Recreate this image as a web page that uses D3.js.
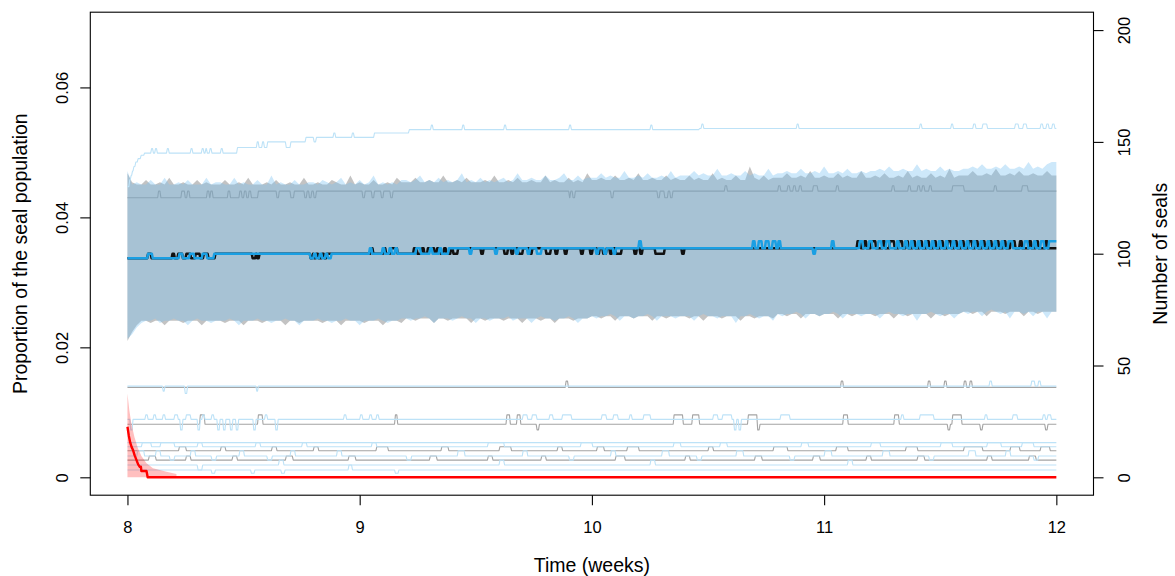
<!DOCTYPE html>
<html>
<head>
<meta charset="utf-8">
<script src="https://cdn.jsdelivr.net/npm/d3@7"></script>
<style>
  body { margin: 0; background: #fff; }
  svg text { font-family: "Liberation Sans", Arial, Helvetica, sans-serif; fill: #000; }
</style>
</head>
<body>
<div id="chart"></div>
<script>
// ---- axes ----
const timeTicks = [8, 9, 10, 11, 12];
const propTicks = [0, 0.02, 0.04, 0.06];
const sealTicks = [0, 50, 100, 150, 200];
const totalSeals = 2906; // 200 seals <-> 0.0688 of the population

// ---- 95% bands (seals), sampled every 0.02 weeks from week 8 to 12 ----
const greyHi = [
  136,132,131,131,133,131,131,132,131,134,131,131,132,131,131,133,131,132,131,131,
  131,133,131,131,132,131,134,131,131,131,132,131,133,131,131,132,131,131,134,131,
  131,132,131,131,133,132,131,131,135,131,132,131,131,133,131,131,132,131,134,132,
  132,132,134,132,132,133,132,132,135,132,132,133,132,134,132,132,132,133,132,135,
  132,132,133,132,134,132,132,133,132,132,135,132,133,132,132,134,132,133,132,136,
  133,133,134,133,133,135,133,133,134,133,136,133,133,134,133,133,135,133,134,133,
  133,135,133,134,133,133,136,133,134,133,133,135,133,133,139,134,133,135,133,134,
  134,134,136,134,134,135,134,137,134,134,135,134,134,136,134,135,134,134,137,134,
  134,135,134,136,134,134,135,134,137,134,135,134,134,136,134,135,134,138,134,135,
  135,135,137,135,135,136,135,138,135,135,136,135,137,135,135,136,135,135,137,135,
  135];
const blueHi = [
  137,131,132,131,131,133,131,131,134,131,131,132,131,133,131,131,131,134,131,132,
  132,131,131,134,131,132,131,131,133,131,131,135,131,132,131,131,133,131,131,132,
  132,131,133,132,131,132,134,131,132,131,133,131,132,135,131,132,131,132,131,133,
  133,132,133,135,132,133,132,134,132,133,132,133,136,132,133,132,134,132,133,132,
  133,134,132,133,136,133,133,134,133,133,135,133,133,134,136,133,133,135,133,134,
  134,134,136,134,135,134,134,137,134,134,135,134,136,134,134,135,134,137,134,135,
  135,135,137,135,136,135,135,138,135,135,136,135,135,137,135,136,135,135,138,135,
  136,136,137,136,136,138,136,136,137,136,139,136,136,137,136,138,136,136,137,136,
  137,137,138,137,139,137,137,138,137,137,140,137,138,137,137,139,137,138,137,137,
  138,138,139,138,140,138,138,139,138,140,138,138,139,138,141,138,139,138,140,141,
  141];
const greyLo = [
  61,65,68,70,70,69,70,70,68,70,70,70,69,70,70,70,68,70,70,70,
  70,69,70,70,70,68,70,70,70,69,70,70,70,70,68,70,70,69,70,70,
  70,70,69,70,70,70,68,70,70,70,70,69,70,70,70,68,70,70,70,69,
  71,71,70,71,71,71,69,71,71,70,71,71,71,71,69,71,71,70,71,71,
  71,70,71,71,71,69,71,71,71,70,71,71,69,71,71,71,70,71,71,71,
  72,72,71,72,72,70,72,72,72,71,72,72,72,70,72,72,71,72,72,72,
  72,71,72,72,70,72,72,72,71,72,72,72,70,72,72,71,72,72,72,71,
  73,73,72,73,73,71,73,73,73,72,73,73,73,71,73,73,72,73,73,73,
  73,72,73,73,73,71,73,73,72,73,73,73,73,71,73,73,72,73,73,73,
  74,74,73,74,74,72,74,74,74,73,74,74,74,72,74,74,73,74,74,74,
  74];
const blueLo = [
  62,64,67,69,70,70,71,69,70,70,71,70,70,68,70,71,70,70,69,70,
  70,70,71,70,68,70,70,70,71,70,70,69,70,70,71,70,70,68,70,70,
  70,71,70,70,69,70,70,71,70,70,68,70,70,70,71,70,69,70,70,71,
  71,70,71,71,72,71,69,71,71,71,70,71,72,71,71,69,71,71,70,71,
  71,71,72,70,71,71,71,69,71,72,71,71,70,71,71,72,71,69,71,71,
  72,71,72,72,73,72,70,72,72,71,72,72,73,72,70,72,72,72,71,72,
  72,72,70,72,73,72,72,71,72,72,72,69,72,72,73,72,71,72,72,70,
  73,72,73,73,74,73,71,73,73,72,73,73,74,73,71,73,73,73,72,73,
  73,73,71,73,74,73,73,72,73,73,70,73,73,74,73,72,73,73,71,73,
  74,73,74,74,72,74,75,74,73,74,71,74,74,73,74,72,74,74,71,74,
  74];

// ---- medians (seals), [week, value] steps ----
const blackMedian = [[8,98],[8.085,100],[8.10,98],[8.19,100],[8.20,98],[8.215,100],[8.235,98],[8.25,100],[8.27,98],[8.29,100],[8.31,98],[8.325,100],[8.345,98],[8.375,100],
  [8.535,98],[8.55,100],[8.555,98],[8.565,100],
  [8.785,98],[8.795,100],[8.80,98],[8.81,100],[8.82,98],[8.835,100],[8.845,98],[8.855,100],
  [9.045,102.4],[9.055,100],[9.10,102.4],[9.11,100],[9.13,102.4],[9.16,100],[9.23,102.4],[9.245,100],[9.265,102.4],[9.275,100],[9.29,102.4],[9.32,100],[9.33,102.4],[9.345,100],[9.36,102.4],[9.37,100],[9.39,102.4],[9.40,100],[9.42,102.4],
  [9.52,100],[9.53,102.4],[9.62,100],[9.635,102.4],[9.65,100],[9.66,102.4],[9.68,100],[9.70,102.4],[9.73,100],[9.74,102.4],[9.80,100],[9.82,102.4],[9.84,100],[9.85,102.4],[9.88,100],[9.89,102.4],[9.95,100],[9.96,102.4],
  [9.99,100],[10.0,102.4],[10.02,100],[10.03,102.4],[10.045,100],[10.06,102.4],[10.075,100],[10.085,102.4],[10.10,100],[10.125,102.4],[10.18,100],[10.19,102.4],[10.205,100],[10.215,102.4],[10.27,100],[10.31,102.4],[10.385,100],[10.395,102.4],
  [11.14,105.6],[11.155,102.4],[11.17,105.6],[11.18,102.4],[11.20,105.6],[11.22,102.4],[11.25,105.6],[11.26,102.4],[11.28,105.6],[11.30,102.4],[11.32,105.6],[11.335,102.4],[11.35,105.6],[11.36,102.4],[11.38,105.6],[11.39,102.4],[11.41,105.6],[11.42,102.4],[11.44,105.6],[11.45,102.4],[11.47,105.6],[11.48,102.4],[11.50,105.6],[11.51,102.4],[11.53,105.6],[11.545,102.4],[11.56,105.6],[11.57,102.4],[11.59,105.6],[11.60,102.4],[11.62,105.6],[11.635,102.4],[11.65,105.6],[11.66,102.4],[11.68,105.6],[11.69,102.4],[11.71,105.6],[11.72,102.4],[11.74,105.6],[11.75,102.4],[11.77,105.6],[11.78,102.4],[11.80,105.6],[11.82,102.4],[11.84,105.6],[11.85,102.4],[11.88,105.6],[11.89,102.4],[11.91,105.6],[11.92,102.4],[11.95,105.6],[11.96,102.4],[12,102.4]];
const blueMedian = [[8,98],[8.085,100],[8.105,98],[8.22,100],[8.235,98],[8.265,100],[8.285,98],[8.32,100],[8.34,98],[8.37,100],
  [8.785,98],[8.80,100],[8.81,98],[8.825,100],[8.835,98],[8.85,100],[8.86,98],[8.875,100],
  [9.04,102.4],[9.05,100],[9.095,102.4],[9.105,100],[9.125,102.4],[9.135,100],[9.15,102.4],[9.16,100],[9.24,102.4],[9.26,100],[9.30,102.4],[9.31,100],[9.34,102.4],[9.35,100],[9.38,102.4],
  [9.47,100],[9.48,102.4],[9.58,100],[9.59,102.4],[9.67,100],[9.68,102.4],[9.72,100],[9.73,102.4],[9.76,100],[9.78,102.4],
  [10.015,100],[10.025,102.4],[10.05,100],[10.06,102.4],[10.09,100],[10.10,102.4],[10.20,105.6],[10.21,102.4],
  [10.69,105.6],[10.70,102.4],[10.715,105.6],[10.73,102.4],[10.745,105.6],[10.76,102.4],[10.775,105.6],[10.79,102.4],[10.80,105.6],[10.81,102.4],[10.95,100],[10.96,102.4],[11.03,105.6],[11.04,102.4],
  [11.15,105.6],[11.165,102.4],[11.19,105.6],[11.205,102.4],[11.23,105.6],[11.245,102.4],[11.265,105.6],[11.28,102.4],[11.31,105.6],[11.32,102.4],[11.345,105.6],[11.355,102.4],[11.37,105.6],[11.38,102.4],[11.40,105.6],[11.41,102.4],[11.43,105.6],[11.44,102.4],[11.46,105.6],[11.47,102.4],[11.49,105.6],[11.50,102.4],[11.52,105.6],[11.53,102.4],[11.55,105.6],[11.56,102.4],[11.58,105.6],[11.59,102.4],[11.61,105.6],[11.62,102.4],[11.64,105.6],[11.65,102.4],[11.67,105.6],[11.68,102.4],[11.70,105.6],[11.71,102.4],[11.73,105.6],[11.74,102.4],[11.76,105.6],[11.77,102.4],[11.79,105.6],[11.81,102.4],[11.86,105.6],[11.875,102.4],[11.90,105.6],[11.91,102.4],[11.93,105.6],[11.945,102.4],[11.965,105.6],[12,105.6]];

// ---- single runs, light blue scenario ----
const blueTop = [[8.000,130],[8.006,133],[8.012,135],[8.018,137],[8.024,139],[8.032,141],[8.042,142.5],[8.055,144],[8.07,145],
  [8.10,147],[8.108,145],[8.117,147],[8.125,145],[8.168,147],[8.176,145],[8.27,147],[8.278,145],[8.318,147],[8.326,145],[8.334,147],[8.34,145],[8.352,147],[8.36,145],[8.40,147],[8.408,145],
  [8.47,147.5],[8.555,150],[8.563,147.5],[8.578,150],[8.586,147.5],[8.60,150],[8.68,147.5],[8.70,150],[8.765,152],[8.80,150],[8.81,152],[8.885,154],[8.893,152],[8.965,154],[8.973,152],[9.06,154],[9.21,155.5],[9.305,157.5],[9.313,155.5],[9.44,157.5],[9.448,155.5],[9.62,157.5],[9.628,155.5],[9.90,157.5],[9.908,155.5],[10.25,157.5],[10.258,155.5],[10.46,156],[10.47,158],[10.478,156],[10.88,158],[10.888,156],
  [11.41,158],[11.418,156],[11.545,158],[11.553,156],[11.64,158],[11.65,156],[11.68,158],[11.70,156],[11.82,158],[11.835,156],[11.855,158],[11.87,156],[11.93,158],[11.94,156],[11.955,158],[11.965,156],[11.98,158],[11.99,156],[12,156]];
const blue40 = [[8,40.8],[8.15,38.5],[8.158,40.8],[8.245,37.5],[8.255,40.8],[8.553,38.5],[8.56,40.8],[11.71,43],[11.72,40.8],[11.89,43],[11.905,40.8],[11.92,43],[11.93,40.8],[12,40.8]];
const blue26 = [[8,25.9],[8.01,21.2],[8.02,25.9],[8.075,27.9],[8.085,25.9],[8.11,27.9],[8.12,25.9],[8.15,27.9],[8.16,25.9],[8.20,27.9],[8.215,25.9],[8.225,21.2],[8.235,25.9],[8.25,27.9],[8.27,25.9],[8.30,21.2],[8.31,25.9],[8.32,27.9],[8.33,25.9],[8.36,27.9],[8.37,25.9],[8.385,21.2],[8.395,25.9],[8.41,21.2],[8.42,25.9],[8.44,21.2],[8.45,25.9],[8.465,21.2],[8.475,25.9],[8.54,21.2],[8.55,25.9],[8.59,27.9],[8.60,25.9],[8.635,21.2],[8.645,25.9],
  [8.93,27.9],[8.94,25.9],[9.0,27.9],[9.01,25.9],[9.04,27.9],[9.05,25.9],[9.07,27.9],[9.08,25.9],[9.70,27.9],[9.72,25.9],[9.74,27.9],[9.76,25.9],[9.815,27.9],[9.83,25.9],[9.87,27.9],[9.91,25.9],[10.04,27.9],[10.06,25.9],[10.09,27.9],[10.11,25.9],[10.16,27.9],[10.17,25.9],[10.22,27.9],[10.25,25.9],
  [10.52,27.9],[10.54,25.9],[10.56,27.9],[10.60,25.9],[10.61,21.2],[10.62,25.9],[10.63,21.2],[10.64,25.9],[10.81,27.9],[10.85,25.9],[11.33,27.9],[11.34,25.9],[11.41,27.9],[11.47,25.9],[11.69,27.9],[11.70,25.9],[11.81,27.9],[11.83,25.9],[11.94,27.9],[11.95,25.9],[11.96,27.9],[11.975,25.9],[12,25.9]];
const blue15 = [[8,15.5],[12,15.5]];
const blue14 = [[8,13.7],[8.06,15.5],[8.10,13.7],[8.14,15.5],[8.20,13.7],[8.30,15.5],[8.32,13.7],[8.55,15.5],[8.57,13.7],[8.75,15.5],[8.77,13.7],[9.05,15.5],[9.07,13.7],[9.55,15.5],[9.62,13.7],[9.95,15.5],[10.0,13.7],[10.35,15.5],[10.38,13.7],[10.55,15.5],[10.58,13.7],[10.9,15.5],[10.93,13.7],[11.2,15.5],[11.24,13.7],[11.5,15.5],[11.55,13.7],[11.7,15.5],[11.76,13.7],[11.85,15.5],[11.9,13.7],[12,13.7]];
const blue9 = [[8,9.5],[8.04,11.9],[8.07,9.5],[8.12,11.9],[8.14,9.5],[8.18,7.7],[8.20,9.5],[8.27,11.9],[8.29,9.5],[8.36,7.7],[8.38,9.5],[8.48,11.9],[8.5,9.5],[8.6,7.7],[8.62,9.5],[8.7,11.9],[8.72,9.5],[8.9,11.9],[8.92,9.5],[9.2,7.7],[9.22,9.5],[9.42,11.9],[9.45,9.5],[9.7,11.9],[9.72,9.5],[9.9,7.7],[9.92,9.5],[10.08,11.9],[10.1,9.5],[10.3,11.9],[10.33,9.5],[10.45,7.7],[10.47,9.5],[10.62,11.9],[10.65,9.5],[10.85,7.7],[10.87,9.5],[11.0,11.9],[11.03,9.5],[11.25,11.9],[11.28,9.5],[11.45,7.7],[11.47,9.5],[11.62,11.9],[11.65,9.5],[11.78,11.9],[11.8,9.5],[11.9,7.7],[11.92,9.5],[12,9.5]];
const blue5 = [[8,5.5],[8.3,3.3],[8.32,5.5],[8.65,7.7],[8.67,5.5],[9.6,7.7],[9.62,5.5],[10.25,7.7],[10.27,5.5],[11.1,7.7],[11.12,5.5],[12,5.5]];
const blue3 = [[8,3.3],[8.36,1.8],[8.375,3.3],[8.53,1.8],[8.545,3.3],[8.66,1.8],[8.675,3.3],[8.95,5.5],[8.965,3.3],[9.15,1.8],[9.165,3.3],[12,3.3]];

// ---- single runs, grey scenario ----
const greyTop = [[8,125],[8.13,128],[8.14,125],[8.23,128],[8.245,125],[8.255,128],[8.265,125],[8.34,128],[8.35,125],[8.355,128],[8.365,125],[8.43,128],[8.44,125],[8.48,128],[8.49,125],[8.50,128],[8.51,125],[8.52,128],[8.53,125],[8.56,128],[8.64,125],[8.65,128],[8.70,125],[8.715,128],[8.76,125],[8.77,128],[8.78,125],[8.79,128],[8.80,125],[8.81,128],[9.01,125],[9.02,128],[9.05,125],[9.06,128],[9.09,125],[9.10,128],[9.13,125],[9.14,128],
  [9.90,125],[9.905,128],[9.915,125],[9.925,128],[10.08,125],[10.09,128],[10.28,125],[10.29,128],[10.31,125],[10.325,128],[10.335,125],[10.345,128],[10.57,130.4],[10.58,128],[10.80,130.4],[10.81,128],[10.84,130.4],[10.85,128],[10.865,130.4],[10.875,128],[10.89,130.4],[10.90,128],[10.95,130.4],[10.97,128],[11.05,130.4],[11.06,128],[11.29,130.4],[11.30,128],[11.36,130.4],[11.37,128],[11.40,130.4],[11.41,128],[11.42,130.4],[11.43,128],[11.45,130.4],[11.46,128],[11.55,130.4],[11.60,128],[11.73,130.4],[11.74,128],[11.85,130.4],[11.875,128],[12,128]];
const grey40 = [[8,40.2],[9.885,43],[9.895,40.2],[11.07,43],[11.08,40.2],[11.445,43],[11.455,40.2],[11.515,43],[11.525,40.2],[11.60,43],[11.61,40.2],[11.625,43],[11.635,40.2],[12,40.2]];
const grey24 = [[8,23.7],[8.31,27.9],[8.33,23.7],[8.56,27.9],[8.58,23.7],[9.15,27.9],[9.16,23.7],[9.63,27.9],[9.645,23.7],[9.675,27.9],[9.69,23.7],[9.76,21.2],[9.77,23.7],[10.35,27.9],[10.39,23.7],[10.43,27.9],[10.46,23.7],[10.67,27.9],[10.71,21.2],[10.72,23.7],[11.08,27.9],[11.10,23.7],[11.30,27.9],[11.32,23.7],[11.53,21.2],[11.54,23.7],[11.55,27.9],[11.59,23.7],[11.67,21.2],[11.68,23.7],[11.95,21.2],[11.96,23.7],[12,23.7]];
const grey12 = [[8,11.9],[8.22,13.7],[8.25,11.9],[8.40,13.7],[8.42,11.9],[8.62,13.7],[8.64,11.9],[8.80,13.7],[8.82,11.9],[9.07,13.7],[9.12,11.9],[9.35,13.7],[9.38,11.9],[9.60,13.7],[9.65,11.9],[9.85,13.7],[9.87,11.9],[10.02,13.7],[10.05,11.9],[10.15,13.7],[10.2,11.9],[10.5,13.7],[10.52,11.9],[10.78,13.7],[10.84,11.9],[11.05,13.7],[11.10,11.9],[11.35,13.7],[11.40,11.9],[11.60,13.7],[11.68,11.9],[11.80,13.7],[11.84,11.9],[11.93,13.7],[11.97,11.9],[12,11.9]];
const grey8 = [[8,7.7],[8.09,9.5],[8.12,7.7],[8.25,9.5],[8.27,7.7],[8.45,9.5],[8.47,7.7],[8.68,9.5],[8.71,7.7],[8.95,9.5],[8.98,7.7],[9.3,9.5],[9.33,7.7],[9.55,9.5],[9.57,7.7],[9.78,9.5],[9.8,7.7],[10.1,9.5],[10.14,7.7],[10.4,9.5],[10.42,7.7],[10.7,9.5],[10.73,7.7],[10.95,9.5],[10.98,7.7],[11.18,9.5],[11.2,7.7],[11.4,9.5],[11.43,7.7],[11.7,9.5],[11.72,7.7],[11.88,9.5],[11.91,7.7],[12,7.7]];

// ---- infected (red) ----
const redLine = [[8.000,22.6],[8.006,18.5],[8.012,15.5],[8.018,13.5],[8.024,12.2],[8.031,9.8],[8.039,7.7],[8.046,5.8],[8.053,4.7],[8.058,4.7],[8.060,2.8],[8.082,2.8],[8.087,0],[12,0]];
const redHi = [[8.0,37.5],[8.008,30],[8.017,24],[8.03,18],[8.045,13],[8.06,9.5],[8.082,6.3],[8.11,4],[8.168,2.5],[8.211,1.5],[8.2111,0]];

// ---- layout ----
const W = 1175, H = 576;
const box = {left: 90.3, right: 1093.5, top: 12.2, bottom: 495.2};
const STEP_EDGE = 0.004; // weeks a count change takes on screen (about 1px)

const svg = d3.select("#chart").append("svg")
  .attr("width", W).attr("height", H)
  .style("background", "#fff");

const x = d3.scaleLinear().domain([7.84, 12.16]).range([box.left, box.right]);
const y = d3.scaleLinear().domain([-8, 208]).range([box.bottom, box.top]);
const yProp = d3.scaleLinear().domain([-8 / totalSeals, 208 / totalSeals]).range([box.bottom, box.top]);

const ribbonWeeks = greyHi.map((d, i) => 8 + i * 0.02);
const ribbon = (lo, hi) => ribbonWeeks.map((t, i) => ({t: t, lo: lo[i], hi: hi[i]}));

const band = d3.area().x(d => x(d.t)).y0(d => y(d.lo)).y1(d => y(d.hi));
const plainLine = d3.line().x(d => x(d[0])).y(d => y(d[1]));

// step series -> vertices with a short slanted edge at each change (like R's sampled lines)
function stepVertices(data) {
  const pts = [data[0]];
  for (let i = 1; i < data.length; i++) {
    const t = data[i][0], prev = data[i - 1][1], v = data[i][1];
    if (v === prev) { pts.push(data[i]); continue; }
    pts.push([t, prev]);
    pts.push([Math.min(t + STEP_EDGE, 12), v]);
  }
  return pts;
}

svg.append("clipPath").attr("id", "plotclip").append("rect")
  .attr("x", box.left).attr("y", box.top)
  .attr("width", box.right - box.left).attr("height", box.bottom - box.top);
const plot = svg.append("g").attr("clip-path", "url(#plotclip)");

function drawStep(data, color, width) {
  plot.append("path").datum(stepVertices(data))
    .attr("d", plainLine)
    .attr("fill", "none")
    .attr("stroke", color)
    .attr("stroke-width", width)
    .attr("stroke-linejoin", "round");
}

// grey scenario band + runs
plot.append("path").datum(ribbon(greyLo, greyHi))
  .attr("d", band).attr("fill", "#7f7f7f").attr("fill-opacity", 0.47);
drawStep(greyTop, "#969696", 1.1);
[grey40, grey24, grey12, grey8].forEach(s => drawStep(s, "#a4a4a4", 1.1));

// light blue scenario band + runs
plot.append("path").datum(ribbon(blueLo, blueHi))
  .attr("d", band).attr("fill", "rgb(120,193,242)").attr("fill-opacity", 0.37);
[blueTop, blue40, blue26, blue15, blue14, blue9, blue5, blue3].forEach(s => drawStep(s, "#bde2f7", 1.1));

// red band
plot.append("path").datum(redHi)
  .attr("d", d3.area().x(d => x(d[0])).y0(y(0)).y1(d => y(d[1])))
  .attr("fill", "#ff0000").attr("fill-opacity", 0.25);

// medians
drawStep(blackMedian, "#111111", 2.5);
drawStep(blueMedian, "#1a9fe3", 2.5);
plot.append("path").datum(redLine)
  .attr("d", plainLine).attr("fill", "none")
  .attr("stroke", "#ff0000").attr("stroke-width", 2.4).attr("stroke-linejoin", "round");

// ---- frame ----
svg.append("rect")
  .attr("x", box.left).attr("y", box.top)
  .attr("width", box.right - box.left).attr("height", box.bottom - box.top)
  .attr("fill", "none").attr("stroke", "#000").attr("stroke-width", 1.1);

// ---- axes ----
const tickFont = "16.5px";

const xAxis = svg.append("g")
  .attr("transform", `translate(0,${box.bottom})`)
  .call(d3.axisBottom(x).tickValues(timeTicks).tickSize(10).tickFormat(d3.format("d")));
xAxis.select(".domain").remove();
xAxis.selectAll("line").attr("stroke", "#000").attr("stroke-width", 1.1);
xAxis.selectAll("text").attr("y", 37.5).attr("dy", null)
  .style("font-size", tickFont).attr("fill", "#000");

const leftAxis = svg.append("g")
  .attr("transform", `translate(${box.left},0)`)
  .call(d3.axisLeft(yProp).tickValues(propTicks).tickSize(10).tickFormat(d => d === 0 ? "0" : d.toFixed(2)));
leftAxis.select(".domain").remove();
leftAxis.selectAll("line").attr("stroke", "#000").attr("stroke-width", 1.1);
leftAxis.selectAll("text")
  .attr("x", null).attr("dy", null)
  .attr("text-anchor", "middle")
  .attr("transform", "translate(-22,0) rotate(-90)")
  .style("font-size", tickFont).attr("fill", "#000");

const rightAxis = svg.append("g")
  .attr("transform", `translate(${box.right},0)`)
  .call(d3.axisRight(y).tickValues(sealTicks).tickSize(10).tickFormat(d3.format("d")));
rightAxis.select(".domain").remove();
rightAxis.selectAll("line").attr("stroke", "#000").attr("stroke-width", 1.1);
rightAxis.selectAll("text")
  .attr("x", null).attr("dy", null)
  .attr("text-anchor", "middle")
  .attr("transform", "translate(36.5,0) rotate(-90)")
  .style("font-size", tickFont).attr("fill", "#000");

// ---- titles ----
const midX = (box.left + box.right) / 2, midY = (box.top + box.bottom) / 2;
svg.append("text")
  .attr("x", midX).attr("y", 572)
  .attr("text-anchor", "middle").style("font-size", "19.5px")
  .text("Time (weeks)");
svg.append("text")
  .attr("transform", `translate(27,${midY}) rotate(-90)`)
  .attr("text-anchor", "middle").style("font-size", "19.5px")
  .text("Proportion of the seal population");
svg.append("text")
  .attr("transform", `translate(1167,${midY}) rotate(-90)`)
  .attr("text-anchor", "middle").style("font-size", "19.5px")
  .text("Number of seals");
</script>
</body>
</html>
